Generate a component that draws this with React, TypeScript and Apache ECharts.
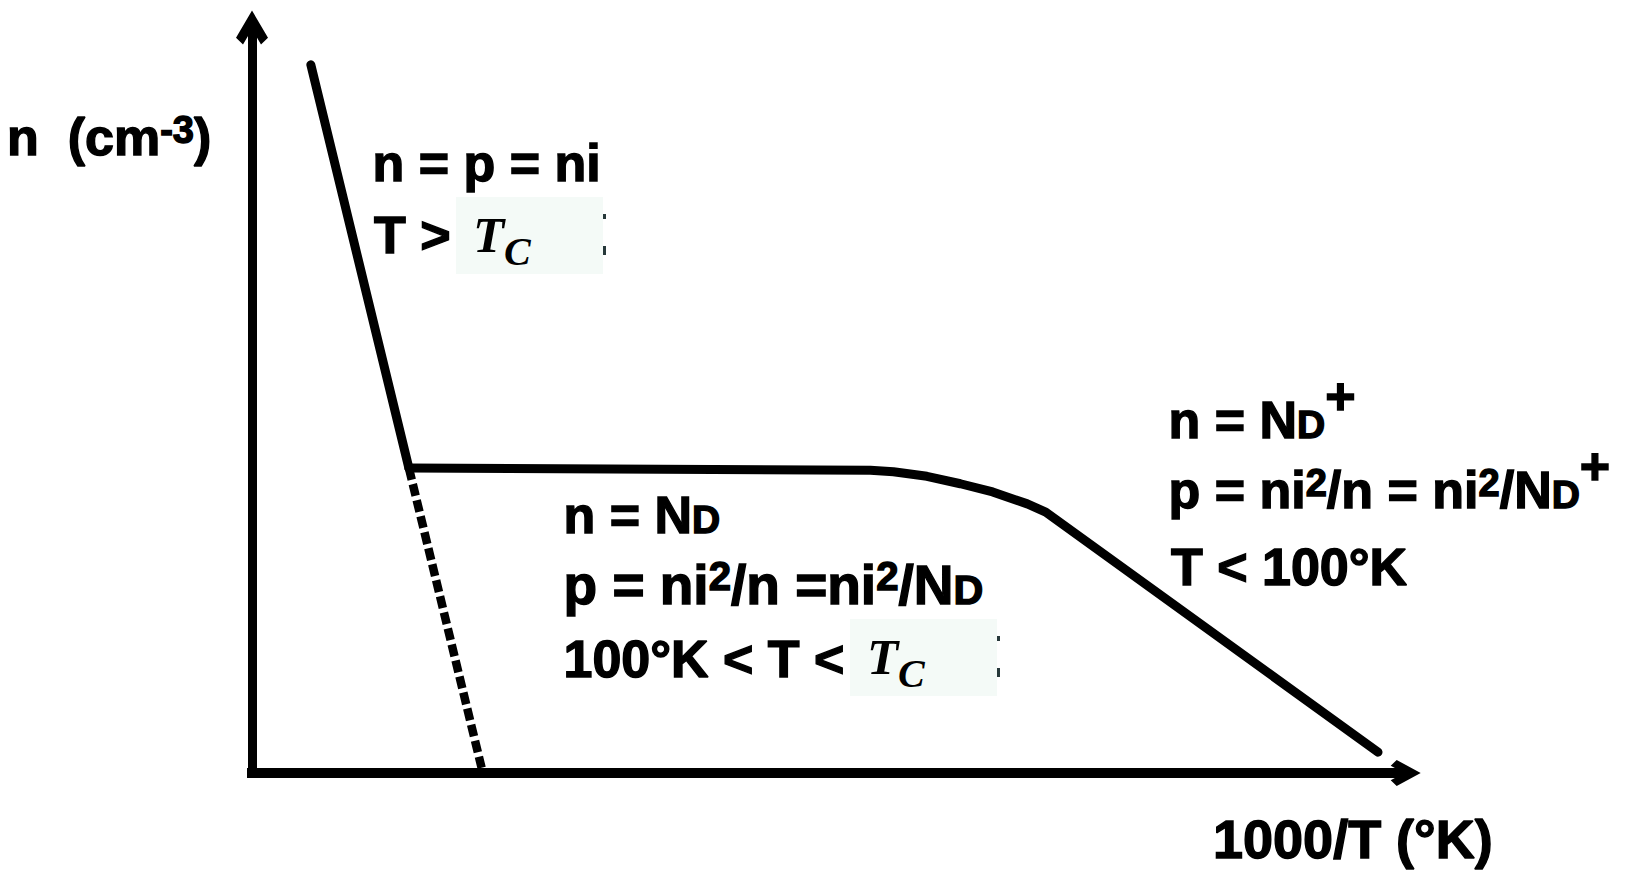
import React, { useEffect, useRef } from "react";
import * as echarts from "echarts";

// Carrier concentration vs 1000/T, in plot units (x: 0–100 along 1000/T, y: 0–100 along n)
const intrinsicSolid = [
  [5.1, 95.0],
  [13.6, 40.9],
];
const intrinsicDashed = [
  [13.6, 40.9],
  [19.9, 0.7],
];
const extrinsicCurve = [
  [13.6, 40.9],
  [53.6, 40.6],
  [55.6, 40.4],
  [58.5, 39.8],
  [61.4, 38.8],
  [64.2, 37.7],
  [67.2, 36.1],
  [68.8, 35.0],
  [97.6, 2.8],
];

// Region annotations (rich-text markup)
const yAxisTitle = "{b|n  (cm}{s|-3}{b|)}";
const xAxisTitle = "{b|1000/T (°K)}";
const intrinsicLines = ["{b|n = p = ni}", "{b|T >}"];
const saturationLines = [
  "{b|n = N}{d|D}",
  "{b|p = ni}{s|2}{b|/n =ni}{s|2}{b|/N}{d|D}",
  "{b|100°K < T <}",
];
const freezeOutLines = [
  "{b|n = N}{d|D}{p|+}",
  "{b|p = ni}{s|2}{b|/n = ni}{s|2}{b|/N}{d|D}{p|+}",
  "{b|T < 100°K}",
];
const criticalT = ["T", "C"];

const SANS = '"Liberation Sans", Arial, Helvetica, sans-serif';
const SERIF = '"Liberation Serif", "Times New Roman", serif';

const Y_ARROW = "path://M16 0 L32 27.2 L25 34 L16 18.7 L7 34 L0 27.2 Z";
const X_ARROW = "path://M13 0 L26 24 L20.3 30 L13 16.5 L5.7 30 L0 24 Z";

// Each annotation is one line 100px tall; the main glyphs sit centred in it,
// raised/lowered tokens are placed from the top or bottom edge with padding.
function richFor(size: number): any {
  const k = size / 52;
  const ink = { fill: "#000", stroke: "#000", lineWidth: 1.4, fontFamily: SANS, fontWeight: "bold" };
  return {
    b: { ...ink, fontSize: size, lineHeight: 100 },
    s: { ...ink, fontSize: 38 * k, verticalAlign: "top", padding: [50 - 26.5 * k, 0, 0, 0] },
    d: { ...ink, fontSize: 39 * k, verticalAlign: "bottom", padding: [0, 0, 50 - 24 * k, 0] },
    p: { ...ink, fontSize: size, verticalAlign: "top", padding: [Math.max(0, 50 - 50 * k), 0, 0, 0] },
  };
}

function label(text: string, x: number, y: number, size = 52) {
  return {
    type: "text",
    x,
    y,
    z: 20,
    silent: true,
    style: {
      text,
      rich: richFor(size),
      fill: "#000",
      align: "left",
      verticalAlign: "middle",
      textAlign: "left",
      textVerticalAlign: "middle",
    },
  };
}

function serifGlyph(text: string, x: number, y: number, size: number) {
  return {
    type: "text",
    x,
    y,
    z: 21,
    silent: true,
    style: {
      text,
      fill: "#000",
      fontFamily: SERIF,
      fontStyle: "italic",
      fontWeight: "bold",
      fontSize: size,
      align: "left",
      verticalAlign: "middle",
      textAlign: "left",
      textVerticalAlign: "middle",
    },
  };
}

function tcBox(left: number, top: number) {
  return [
    {
      type: "rect",
      z: 15,
      silent: true,
      shape: { x: left, y: top, width: 147, height: 77 },
      style: { fill: "#f4faf7" },
    },
    serifGlyph(criticalT[0], left + 17, top + 38, 51),
    serifGlyph(criticalT[1], left + 48, top + 54, 40),
    {
      type: "rect",
      z: 15,
      silent: true,
      shape: { x: left + 147, y: top + 17, width: 3, height: 5 },
      style: { fill: "#26383a" },
    },
    {
      type: "rect",
      z: 15,
      silent: true,
      shape: { x: left + 147, y: top + 49, width: 3, height: 9 },
      style: { fill: "#26383a" },
    },
  ];
}

function buildOption(): any {
  const lineBase = {
    type: "line",
    showSymbol: false,
    symbol: "none",
    silent: true,
    animation: false,
    z: 5,
  };
  return {
    animation: false,
    backgroundColor: "#ffffff",
    grid: { left: 252, right: 239.3, top: 27.5, bottom: 98, outerBoundsMode: "none" },
    xAxis: {
      type: "value",
      min: 0,
      max: 100,
      axisLine: {
        show: true,
        onZero: false,
        symbol: ["none", X_ARROW],
        symbolSize: [26, 30],
        symbolOffset: [0, 0],
        lineStyle: { color: "#000", width: 10, cap: "square" },
      },
      axisTick: { show: false },
      axisLabel: { show: false },
      splitLine: { show: false },
    },
    yAxis: {
      type: "value",
      min: 0,
      max: 100,
      axisLine: {
        show: true,
        onZero: false,
        symbol: ["none", Y_ARROW],
        symbolSize: [32, 34],
        symbolOffset: [0, 0],
        lineStyle: { color: "#000", width: 9, cap: "square" },
      },
      axisTick: { show: false },
      axisLabel: { show: false },
      splitLine: { show: false },
    },
    series: [
      {
        ...lineBase,
        name: "intrinsic",
        data: intrinsicSolid,
        lineStyle: { color: "#000", width: 9, cap: "round", join: "round" },
      },
      {
        ...lineBase,
        name: "intrinsic (extrapolated)",
        data: intrinsicDashed,
        lineStyle: { color: "#000", width: 8.5, type: [12, 4.5], cap: "butt" },
      },
      {
        ...lineBase,
        name: "extrinsic",
        data: extrinsicCurve,
        lineStyle: { color: "#000", width: 9, cap: "round", join: "round" },
      },
    ],
    graphic: {
      elements: [
        label(yAxisTitle, 7, 137),
        label(xAxisTitle, 1213, 839, 54),
        label(intrinsicLines[0], 372.5, 162.5),
        label(intrinsicLines[1], 374, 235),
        ...tcBox(456, 197),
        label(saturationLines[0], 563.5, 515),
        label(saturationLines[1], 563.5, 585, 55),
        label(saturationLines[2], 563.5, 659),
        ...tcBox(850, 619),
        label(freezeOutLines[0], 1168.5, 420),
        label(freezeOutLines[1], 1168.5, 490),
        label(freezeOutLines[2], 1171, 567),
      ],
    },
  };
}

export default function App() {
  const ref = useRef<HTMLDivElement>(null);
  useEffect(() => {
    if (!ref.current) return;
    const chart = echarts.init(ref.current, undefined, { renderer: "svg" });
    chart.setOption(buildOption());
    return () => {
      chart.dispose();
    };
  }, []);
  return (
    <div
      ref={ref}
      style={{
        position: "fixed",
        left: 0,
        top: 0,
        width: "1645px",
        height: "871px",
        background: "#ffffff",
      }}
    />
  );
}
